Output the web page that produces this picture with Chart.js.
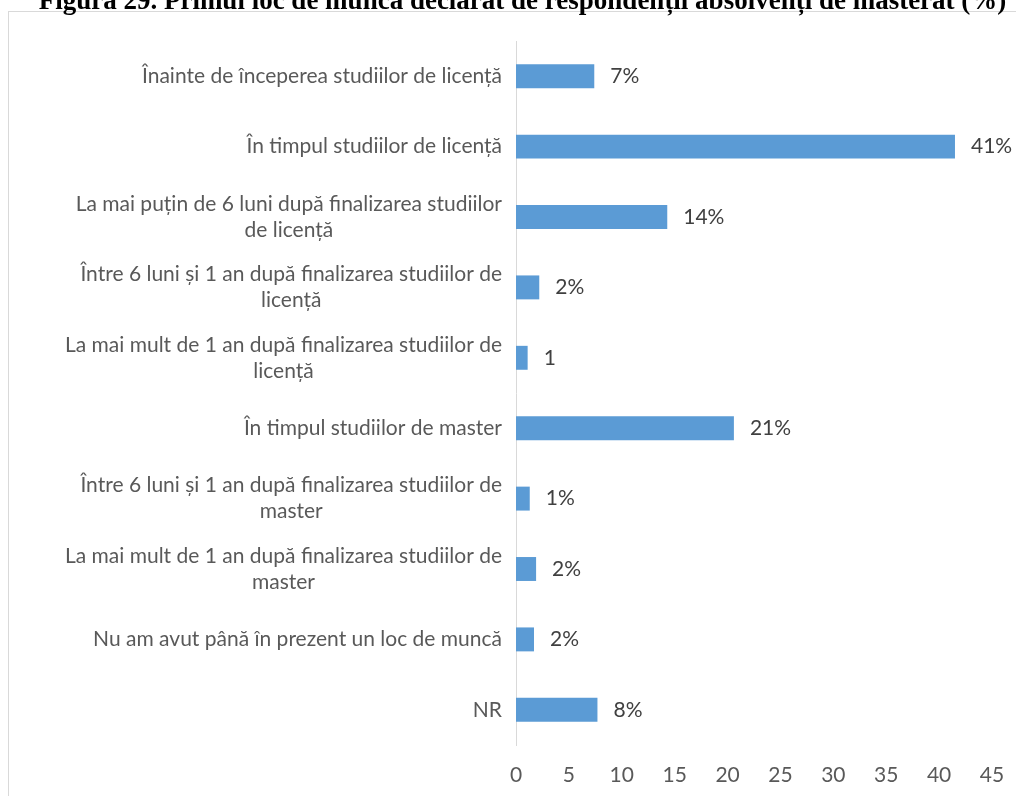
<!DOCTYPE html>
<html>
<head>
<meta charset="utf-8">
<script src="https://cdn.jsdelivr.net/npm/chart.js@4/dist/chart.umd.min.js"></script>
<style>
  html, body { margin: 0; padding: 0; background: #fff; overflow: hidden; }
  body { width: 1016px; height: 796px; position: relative; }
  #title {
    position: absolute; left: 0; width: 1045px; top: -13px;
    font: bold 27px/27px "Liberation Serif", "Times New Roman", serif;
    text-align: center; white-space: nowrap; color: #000; z-index: 2;
  }
  #box {
    position: absolute; left: 8px; top: 11px; width: 1020px; height: 800px;
    border: 1px solid #d9d9d9; background: #fff;
  }
  #wrap { position: absolute; left: 0; top: 0; width: 1007px; height: 784px; }
</style>
</head>
<body>
<div id="box">
  <div id="wrap"><canvas id="grafic"></canvas></div>
</div>
<div id="title">Figura 29. Primul loc de muncă declarat de respondenții absolvenți de masterat (%)</div>
<script>

const categorii = [
    ["Înainte de începerea studiilor de licență"],
    ["În timpul studiilor de licență"],
    ["La mai puțin de 6 luni după finalizarea studiilor", "de licență"],
    ["Între 6 luni și 1 an după finalizarea studiilor de", "licență"],
    ["La mai mult de 1 an după finalizarea studiilor de", "licență"],
    ["În timpul studiilor de master"],
    ["Între 6 luni și 1 an după finalizarea studiilor de", "master"],
    ["La mai mult de 1 an după finalizarea studiilor de", "master"],
    ["Nu am avut până în prezent un loc de muncă"],
    ["NR"]
];

const valori = [7.4, 41.5, 14.3, 2.2, 1.1, 20.6, 1.3, 1.9, 1.7, 7.7];

const etichete = ["7%", "41%", "14%", "2%", "1", "21%", "1%", "2%", "2%", "8%"];

const ticksX = [0, 5, 10, 15, 20, 25, 30, 35, 40, 45];

const FONT = "Lato, Calibri, 'Open Sans', sans-serif";
const MARIME = 21;

// etichetele categoriilor: bloc aliniat la dreapta, randurile centrate intre ele
const pluginCategorii = {
    id: "pluginCategorii",
    afterDraw(chart) {
        const ctx = chart.ctx;
        const y = chart.scales.y;
        const dreapta = chart.chartArea.left - 14;
        ctx.save();
        ctx.font = MARIME + "px " + FONT;
        ctx.fillStyle = "#595959";
        ctx.textAlign = "center";
        ctx.textBaseline = "middle";
        const inaltimeRand = 26;
        categorii.forEach((linii, i) => {
            const cy = y.getPixelForValue(i);
            const w = Math.max(...linii.map(l => ctx.measureText(l).width));
            const cx = dreapta - w / 2;
            const start = cy - (linii.length - 1) * inaltimeRand / 2;
            linii.forEach((l, k) => ctx.fillText(l, cx, start + k * inaltimeRand));
        });
        ctx.restore();
    }
};

// etichetele valorilor langa bare
const pluginValori = {
    id: "pluginValori",
    afterDatasetsDraw(chart) {
        const ctx = chart.ctx;
        const meta = chart.getDatasetMeta(0);
        ctx.save();
        ctx.font = MARIME + "px " + FONT;
        ctx.fillStyle = "#404040";
        ctx.textAlign = "left";
        ctx.textBaseline = "middle";
        meta.data.forEach((bar, i) => {
            ctx.fillText(etichete[i], bar.x + 16, bar.y);
        });
        ctx.restore();
    }
};

new Chart(document.getElementById("grafic"), {
    type: "bar",
    data: {
        labels: categorii.map(c => c.join(" ")),
        datasets: [{
            data: valori,
            backgroundColor: "#5b9bd5",
            categoryPercentage: 1,
            barPercentage: 0.34
        }]
    },
    options: {
        indexAxis: "y",
        responsive: true,
        maintainAspectRatio: false,
        animation: false,
        layout: { padding: { top: 29, right: 24, bottom: 0, left: 0 } },
        plugins: {
            legend: { display: false },
            tooltip: { enabled: false }
        },
        scales: {
            x: {
                min: 0,
                max: 45,
                afterBuildTicks: scale => { scale.ticks = ticksX.map(v => ({ value: v })); },
                afterFit: scale => { scale.height = 51; },
                grid: { display: false },
                border: { display: false },
                ticks: {
                    padding: 10,
                    color: "#595959",
                    font: { family: FONT, size: MARIME }
                }
            },
            y: {
                afterFit: scale => { scale.width = 507; },
                grid: { display: false },
                border: { display: true, color: "#d9d9d9", width: 1 },
                ticks: { display: false }
            }
        }
    },
    plugins: [pluginCategorii, pluginValori]
});

</script>
</body>
</html>
